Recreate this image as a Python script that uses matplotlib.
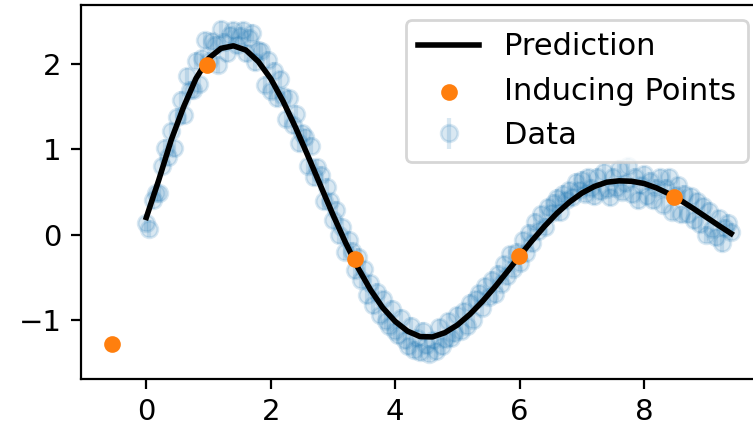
import numpy as np
import matplotlib
matplotlib.use("Agg")
import matplotlib.pyplot as plt

# Prediction curve (x grid and predicted mean)
pred_x = [0.0, 0.2, 0.4, 0.6, 0.8, 1.0, 1.2, 1.4, 1.6, 1.8, 2.0, 2.2, 2.4, 2.6, 2.8,
          3.0, 3.2, 3.4, 3.6, 3.8, 4.0, 4.2, 4.4, 4.6, 4.8, 5.0, 5.2, 5.4, 5.6, 5.8,
          6.0, 6.2, 6.4, 6.6, 6.8, 7.0, 7.2, 7.4, 7.6, 7.8, 8.0, 8.2, 8.4, 8.6, 8.8,
          9.0, 9.2, 9.4]
pred_y = [0.20, 0.64, 1.11, 1.50, 1.834, 2.067, 2.185, 2.215, 2.165, 2.03, 1.829,
          1.562, 1.254, 0.919, 0.574, 0.232, -0.092, -0.388, -0.646, -0.859, -1.020,
          -1.135, -1.198, -1.202, -1.152, -1.062, -0.937, -0.787, -0.618, -0.437,
          -0.252, -0.072, 0.097, 0.250, 0.380, 0.486, 0.564, 0.614, 0.630, 0.625,
          0.599, 0.547, 0.478, 0.395, 0.302, 0.204, 0.106, 0.011]

# Inducing points
ind_x = [-0.55, 0.98, 3.35, 5.99, 8.48]
ind_y = [-1.28, 1.99, -0.29, -0.25, 0.44]

# Noisy observations (evenly spaced in x from 0 to 9.4)
data_y = [0.14, 0.07, 0.40, 0.49, 0.49, 0.81, 1.02, 0.91, 1.21, 1.01,
          1.38, 1.58, 1.40, 1.86, 1.70, 1.70, 2.04, 1.77, 2.07, 2.28,
          2.04, 2.27, 2.23, 1.99, 2.41, 2.26, 2.13, 2.34, 2.40, 2.22,
          2.33, 2.40, 2.13, 2.31, 2.37, 2.02, 2.17, 2.15, 1.76, 2.05,
          1.69, 1.92, 1.60, 1.82, 1.62, 1.36, 1.60, 1.28, 1.42, 1.07,
          1.19, 1.14, 0.81, 1.04, 0.67, 0.79, 0.70, 0.39, 0.56, 0.39,
          0.17, 0.29, -0.01, 0.09, -0.20, -0.06, -0.19, -0.42, -0.26, -0.53,
          -0.41, -0.71, -0.57, -0.83, -0.67, -0.94, -0.76, -1.01, -1.07, -0.87,
          -1.13, -1.18, -0.98, -1.24, -1.31, -1.07, -1.35, -1.22, -1.38, -1.13,
          -1.30, -1.40, -1.24, -1.37, -1.09, -1.31, -1.23, -1.02, -1.22, -1.16,
          -0.95, -1.13, -0.90, -1.07, -0.80, -1.00, -0.76, -0.69, -0.86, -0.61,
          -0.73, -0.53, -0.70, -0.46, -0.58, -0.35, -0.49, -0.23, -0.40, -0.20,
          -0.33, -0.07, -0.22, 0.02, -0.10, 0.15, 0.04, 0.24, 0.09, 0.32,
          0.25, 0.37, 0.43, 0.26, 0.48, 0.40, 0.52, 0.44, 0.62, 0.52,
          0.64, 0.48, 0.67, 0.55, 0.45, 0.68, 0.51, 0.73, 0.54, 0.44,
          0.68, 0.55, 0.77, 0.50, 0.60, 0.80, 0.47, 0.68, 0.40, 0.58,
          0.71, 0.45, 0.63, 0.40, 0.55, 0.67, 0.35, 0.55, 0.67, 0.27,
          0.46, 0.58, 0.24, 0.48, 0.24, 0.45, 0.17, 0.39, 0.12, 0.33,
          0.00, 0.28, 0.07, -0.03, 0.19, -0.10, 0.08, 0.14, 0.03]
data_x = np.linspace(0.0, 9.4, len(data_y))
data_err = 0.1

fig = plt.figure(figsize=(3.765, 2.14), dpi=200)
ax = fig.add_axes([81 / 753, 49 / 428, 682.5 / 753, 374 / 428])

ax.plot(pred_x, pred_y, color="black", lw=2, zorder=4, label="Prediction")
ax.scatter(ind_x, ind_y, color="C1", s=25, zorder=5, label="Inducing Points")
ax.errorbar(data_x, data_y, yerr=data_err, fmt="o", color="C0", alpha=0.17,
            zorder=2, label="Data")

ax.set_xlim(-1.05, 9.92)
ax.set_ylim(-1.696, 2.694)
ax.set_xticks([0, 2, 4, 6, 8])
ax.set_yticks([-1, 0, 1, 2])
ax.tick_params(labelsize=10.5)
ax.legend(loc="upper right", fontsize=11)

fig.savefig("out.png", dpi=200)
